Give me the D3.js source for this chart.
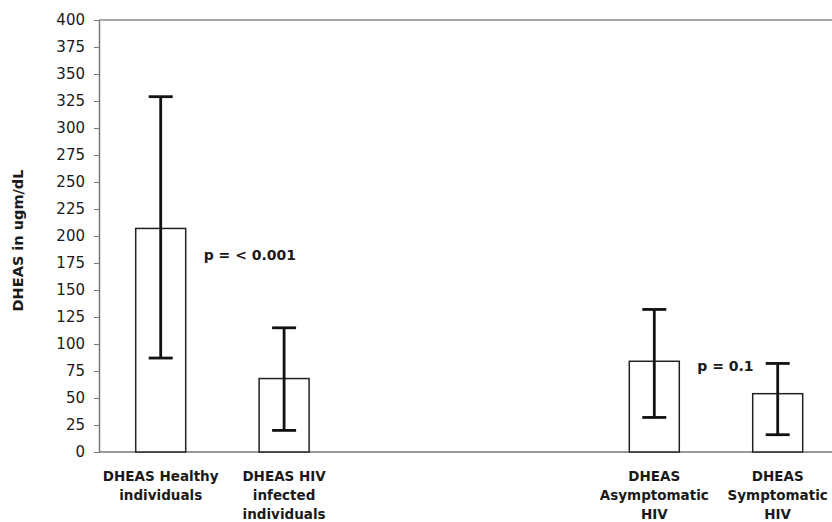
<!DOCTYPE html>
<html>
<head>
<meta charset="utf-8">
<script src="https://cdn.jsdelivr.net/npm/d3@7"></script>
<style>
    body { margin: 0; background: #fff; }
    svg text { font-family: "DejaVu Sans", Arial, sans-serif; fill: #1a1a1a; }
    .axis path, .axis line { stroke: #777; }
</style>
</head>
<body>
<div class="chart"></div>
<script>
// categories (two empty slots between the groups)
const categories = ['healthy', 'hiv', 'gap1', 'gap2', 'asym', 'sym'];
const labelLines = [
    ['DHEAS Healthy', 'individuals'],
    ['DHEAS HIV', 'infected', 'individuals'],
    [],
    [],
    ['DHEAS', 'Asymptomatic', 'HIV'],
    ['DHEAS', 'Symptomatic', 'HIV']
];
const means = [207, 68, null, null, 84, 54];
const upper = [329, 115, null, null, 132, 82];
const lower = [87, 20, null, null, 32, 16];
const yTicks = d3.range(0, 401, 25);

// p-value notes: placed right of a bar, at a value height
const pLabels = ['p = < 0.001', 'p = 0.1'];
const pAfter = ['healthy', 'asym'];
const pValueAt = [178, 75];

const width = 832, height = 522;
const margin = {top: 20, left: 99, bottom: 70};

let svg = d3.select('.chart')
    .append('svg')
    .attr('width', width)
    .attr('height', height);

let y = d3.scaleLinear()
    .domain([0, 400])
    .range([height - margin.bottom, margin.top]);

let x = d3.scaleBand()
    .domain(categories)
    .range([margin.left, margin.left + 6 * 123.4])
    .paddingInner(0.595)
    .paddingOuter(0.2975);

// top frame line and x baseline
svg.append('line')
    .attr('x1', margin.left).attr('x2', width)
    .attr('y1', y(400)).attr('y2', y(400))
    .attr('stroke', '#888').attr('stroke-width', 1.5);
svg.append('line')
    .attr('x1', margin.left).attr('x2', width)
    .attr('y1', y(0)).attr('y2', y(0))
    .attr('stroke', '#777').attr('stroke-width', 1.5);

// Y axis
let yAxis = svg.append('g')
    .attr('class', 'axis')
    .attr('transform', 'translate(' + margin.left + ',0)')
    .call(d3.axisLeft(y).tickValues(yTicks).tickSize(5).tickPadding(9).tickSizeOuter(0));
yAxis.select('.domain').attr('stroke-width', 1.5);
yAxis.selectAll('text')
    .style('font-size', '15px')
    .attr('fill', '#222');

// Y label
svg.append('text')
    .attr('text-anchor', 'middle')
    .attr('transform', 'translate(22.5,' + (y(200) + 4.5) + ')rotate(-90)')
    .style('font-size', '14.5px')
    .style('font-weight', 'bold')
    .text('DHEAS in ugm/dL');

let data = categories.map((c, i) => ({
    key: c, mean: means[i], hi: upper[i], lo: lower[i], lines: labelLines[i]
}));
let filled = data.filter(d => d.mean != null);

// bars
svg.append('g')
    .selectAll('rect')
    .data(filled)
    .enter()
    .append('rect')
    .attr('x', d => x(d.key))
    .attr('y', d => y(d.mean))
    .attr('width', x.bandwidth())
    .attr('height', d => y(0) - y(d.mean))
    .attr('fill', '#fff')
    .attr('stroke', '#222')
    .attr('stroke-width', 1.5);

// error bars
let err = svg.append('g')
    .attr('stroke', '#111')
    .attr('stroke-width', 2.8);
let cx = d => x(d.key) + x.bandwidth() / 2;
err.selectAll('.stem')
    .data(filled).enter().append('line')
    .attr('x1', cx).attr('x2', cx)
    .attr('y1', d => y(d.hi)).attr('y2', d => y(d.lo));
['hi', 'lo'].forEach(k => {
    err.selectAll('.cap-' + k)
        .data(filled).enter().append('line')
        .attr('x1', d => cx(d) - 12).attr('x2', d => cx(d) + 12)
        .attr('y1', d => y(d[k])).attr('y2', d => y(d[k]));
});

// category labels
let labels = svg.append('g')
    .selectAll('text')
    .data(data)
    .enter()
    .append('text')
    .attr('text-anchor', 'middle')
    .style('font-size', '13.5px')
    .style('font-weight', 'bold');
labels.selectAll('tspan')
    .data(d => d.lines.map(l => ({l: l, c: cx(d)})))
    .enter()
    .append('tspan')
    .attr('x', t => t.c)
    .attr('y', (t, i) => y(0) + 29 + i * 19)
    .text(t => t.l);

// p values
svg.append('g')
    .selectAll('text')
    .data(pLabels)
    .enter()
    .append('text')
    .attr('x', (t, i) => x(pAfter[i]) + x.bandwidth() + 18)
    .attr('y', (t, i) => y(pValueAt[i]))
    .style('font-size', '14px')
    .style('font-weight', 'bold')
    .text(t => t);
</script>
</body>
</html>
